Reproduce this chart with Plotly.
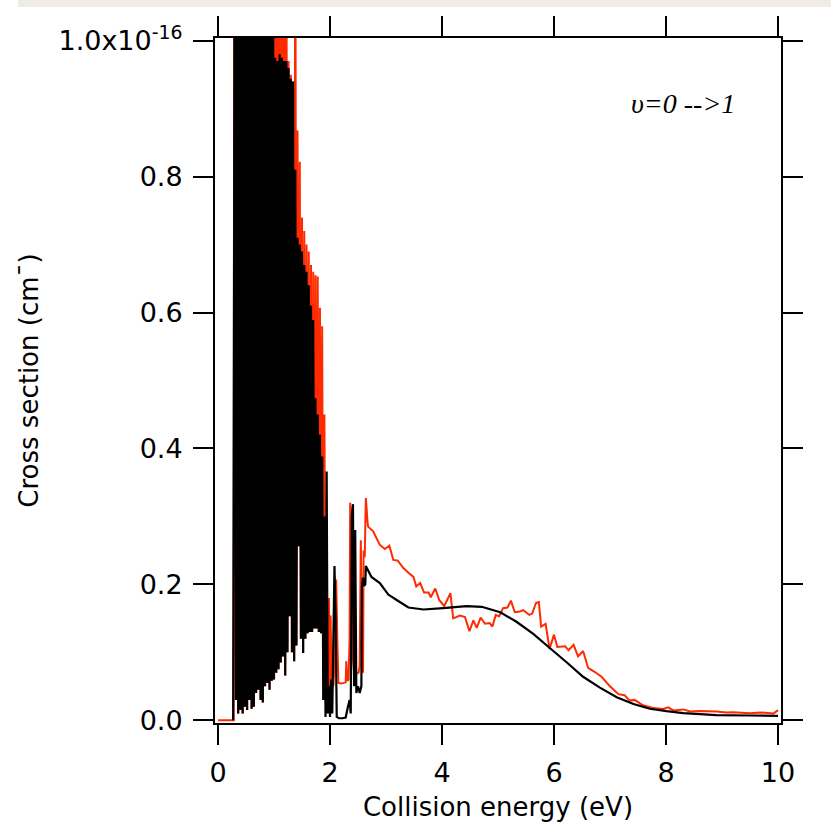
import plotly.graph_objects as go

# ---------------- data ----------------
# black curve
black_x = [0.27, 0.28,
           0.30, 0.32, 0.34, 0.36, 0.38, 0.40, 0.42, 0.44, 0.46, 0.48,
           0.50, 0.52, 0.54, 0.56, 0.58, 0.60, 0.62, 0.64, 0.66, 0.68,
           0.70, 0.72, 0.74, 0.76, 0.78, 0.80, 0.82, 0.84, 0.86, 0.88,
           0.90, 0.92, 0.94, 0.96, 0.98, 1.00, 1.02, 1.04, 1.06, 1.08,
           1.10, 1.12, 1.14, 1.16, 1.18, 1.20, 1.22, 1.24, 1.26, 1.28,
           1.30, 1.32, 1.34, 1.36, 1.38, 1.40, 1.42, 1.44, 1.46, 1.48,
           1.50, 1.52, 1.54, 1.56, 1.58, 1.60, 1.62, 1.64, 1.66, 1.68,
           1.70, 1.72, 1.74, 1.76, 1.78, 1.80, 1.82, 1.84, 1.86, 1.88,
           1.90, 1.92, 1.94, 1.96, 1.98, 2.00, 2.02, 2.04, 2.06, 2.08,
           2.10, 2.12, 2.16, 2.22, 2.28, 2.32, 2.35, 2.37, 2.39, 2.41,
           2.43, 2.45, 2.47, 2.50, 2.53, 2.56, 2.57, 2.59, 2.61, 2.63,
           2.64, 2.74, 2.89, 3.04, 3.19, 3.40, 3.67, 4.02, 4.44, 4.71,
           5.04, 5.33, 5.63, 5.93, 6.23, 6.52, 6.82, 7.12, 7.42, 7.71,
           8.01, 8.31, 8.90, 9.50, 10.0]
black_y = [0.0, 0.40,
           1.3, 0.03, 1.3, 0.01, 1.3, 0.015, 1.3, 0.01, 1.3, 0.02,
           1.3, 0.015, 1.3, 0.03, 1.3, 0.017, 1.3, 0.02, 1.3, 0.04,
           1.3, 0.045, 1.3, 0.03, 1.3, 0.026, 1.3, 0.05, 1.3, 0.055,
           1.3, 0.045, 1.3, 0.058, 1.3, 0.06, 0.975, 0.07, 0.97, 0.075,
           0.98, 0.085, 0.975, 0.094, 0.97, 0.066, 0.97, 0.10, 0.96, 0.153,
           0.944, 0.10, 0.94, 0.087, 0.81, 0.11, 0.71, 0.256, 0.70, 0.12,
           0.69, 0.099, 0.67, 0.12, 0.66, 0.128, 0.64, 0.13, 0.61, 0.13,
           0.589, 0.135, 0.474, 0.135, 0.45, 0.13, 0.42, 0.128, 0.388, 0.03,
           0.30, 0.005, 0.366, 0.01, 0.05, 0.005, 0.06, 0.01, 0.12, 0.227,
           0.15, 0.005, 0.003, 0.003, 0.004, 0.02, 0.03, 0.01, 0.30, 0.318,
           0.05, 0.28, 0.04, 0.05, 0.04, 0.05, 0.197, 0.21, 0.198, 0.20,
           0.227, 0.211, 0.202, 0.185, 0.177, 0.166, 0.163, 0.165, 0.168, 0.167,
           0.159, 0.145, 0.127, 0.106, 0.085, 0.064, 0.048, 0.034, 0.024, 0.017,
           0.0135, 0.0106, 0.0076, 0.007, 0.0066]

# red curve
red_x = [0.00, 0.28, 0.29,
         0.30, 0.32, 0.34, 0.36, 0.38, 0.40, 0.42, 0.44, 0.46, 0.48,
         0.50, 0.52, 0.54, 0.56, 0.58, 0.60, 0.62, 0.64, 0.66, 0.68,
         0.70, 0.72, 0.74, 0.76, 0.78, 0.80, 0.82, 0.84, 0.86, 0.88,
         0.90, 0.92, 0.94, 0.96, 0.98, 1.00, 1.02, 1.04, 1.06, 1.08,
         1.10, 1.12, 1.14, 1.16, 1.18, 1.20, 1.22, 1.24, 1.26, 1.28,
         1.30, 1.32, 1.34, 1.36, 1.38, 1.40, 1.42, 1.44, 1.46, 1.48,
         1.50, 1.52, 1.54, 1.56, 1.58, 1.60, 1.62, 1.64, 1.66, 1.68,
         1.70, 1.72, 1.74, 1.76, 1.78, 1.80, 1.82, 1.84, 1.86, 1.88,
         1.90, 1.92, 1.94, 1.96, 1.98, 2.00, 2.01, 2.03, 2.06, 2.09,
         2.11, 2.13, 2.15, 2.20, 2.25, 2.28, 2.29, 2.31, 2.33, 2.35,
         2.36, 2.38, 2.40, 2.44, 2.48, 2.51, 2.53, 2.55, 2.57, 2.59,
         2.60, 2.62, 2.64, 2.67, 2.68, 2.77, 2.89, 2.98, 3.06, 3.13,
         3.21, 3.31, 3.40, 3.49, 3.54, 3.61, 3.68, 3.76, 3.80, 3.88,
         3.95, 4.04, 4.15, 4.20, 4.32, 4.41, 4.49, 4.56, 4.62, 4.69,
         4.77, 4.85, 4.90, 4.96, 5.02, 5.09, 5.17, 5.23, 5.30, 5.39,
         5.45, 5.56, 5.61, 5.68, 5.73, 5.77, 5.85, 5.92, 6.00, 6.06,
         6.20, 6.26, 6.35, 6.43, 6.52, 6.61, 6.73, 6.85, 7.00, 7.15,
         7.26, 7.35, 7.44, 7.59, 7.77, 7.95, 8.04, 8.13, 8.31, 8.43,
         8.61, 8.90, 9.08, 9.20, 9.50, 9.68, 9.92, 10.0]
red_y = [0.0, 0.0, 1.3,
         1.3, 0.03, 1.3, 0.01, 1.3, 0.015, 1.3, 0.01, 1.3, 0.02,
         1.3, 0.015, 1.3, 0.03, 1.3, 0.017, 1.3, 0.02, 1.3, 0.04,
         1.3, 0.045, 1.3, 0.03, 1.3, 0.026, 1.3, 0.05, 1.3, 0.055,
         1.3, 0.045, 1.3, 0.058, 1.3, 0.06, 1.3, 0.07, 1.3, 0.075,
         1.3, 0.085, 1.3, 0.094, 1.3, 0.066, 1.3, 0.10, 0.97, 0.153,
         0.95, 0.10, 0.94, 0.087, 1.3, 0.11, 0.868, 0.256, 0.822, 0.12,
         0.74, 0.099, 0.72, 0.12, 0.70, 0.128, 0.69, 0.13, 0.67, 0.13,
         0.66, 0.135, 0.655, 0.135, 0.653, 0.13, 0.607, 0.128, 0.58, 0.03,
         0.45, 0.03, 0.15, 0.04, 0.18, 0.03, 0.154, 0.06, 0.05, 0.10,
         0.207, 0.12, 0.055, 0.054, 0.055, 0.056, 0.087, 0.058, 0.06, 0.12,
         0.32, 0.30, 0.10, 0.06, 0.07, 0.07, 0.08, 0.265, 0.10, 0.07,
         0.25, 0.24, 0.327, 0.292, 0.285, 0.278, 0.258, 0.252, 0.257, 0.236,
         0.235, 0.224, 0.217, 0.211, 0.197, 0.202, 0.188, 0.188, 0.181, 0.194,
         0.177, 0.168, 0.187, 0.150, 0.154, 0.152, 0.131, 0.147, 0.136, 0.151,
         0.142, 0.143, 0.138, 0.155, 0.153, 0.165, 0.166, 0.176, 0.159, 0.160,
         0.162, 0.155, 0.157, 0.173, 0.174, 0.138, 0.142, 0.105, 0.126, 0.108,
         0.109, 0.103, 0.111, 0.094, 0.102, 0.077, 0.071, 0.064, 0.050, 0.0385,
         0.037, 0.029, 0.030, 0.022, 0.018, 0.0165, 0.019, 0.0145, 0.016, 0.013,
         0.0135, 0.013, 0.0115, 0.012, 0.0105, 0.0115, 0.010, 0.015]

x_ticks = [0, 2, 4, 6, 8, 10]
x_tick_labels = ["0", "2", "4", "6", "8", "10"]
y_ticks = [0.0, 0.2, 0.4, 0.6, 0.8, 1.0]
y_tick_labels = ["0.0", "0.2", "0.4", "0.6", "0.8", "1.0x10<sup>-16</sup>"]

# ---------------- figure ----------------
W, H = 831, 829
ML, MR, MT, MB = 215, 50, 38, 106
PW, PH = W - ML - MR, H - MT - MB

fig = go.Figure()
fig.add_trace(go.Scatter(x=red_x, y=red_y, mode="lines",
                         line=dict(color="#ff2a00", width=2, simplify=False),
                         showlegend=False))
fig.add_trace(go.Scatter(x=black_x, y=black_y, mode="lines",
                         line=dict(color="black", width=2.2, simplify=False),
                         showlegend=False))

axis_common = dict(showgrid=False, zeroline=False, showline=True, linecolor="black",
                   linewidth=2, ticks="outside", ticklen=20, tickwidth=2,
                   tickcolor="black", mirror="allticks",
                   tickfont=dict(family="DejaVu Sans", size=27, color="black"))

fig.update_layout(
    width=W, height=H,
    margin=dict(l=ML, r=MR, t=MT, b=MB),
    paper_bgcolor="white", plot_bgcolor="white",
    font=dict(family="DejaVu Sans", color="black"),
    xaxis=dict(range=[-0.054, 10.054], tickvals=x_ticks, ticktext=x_tick_labels,
               ticklabelstandoff=5,
               title=dict(text="Collision energy (eV)", standoff=10,
                          font=dict(family="DejaVu Sans", size=26, color="black")),
               **axis_common),
    yaxis=dict(range=[-0.004, 1.004], tickvals=y_ticks, ticktext=y_tick_labels,
               ticklabelstandoff=5,
               title=dict(text="Cross section (cm¯)", standoff=12,
                          font=dict(family="DejaVu Sans", size=26, color="black")),
               **axis_common),
    annotations=[dict(x=8.3, y=0.908, xref="x", yref="y", showarrow=False,
                      text="<i>υ=0 --&gt;1</i>",
                      font=dict(family="Liberation Serif", size=28, color="black"))],
    shapes=[dict(type="rect", xref="paper", yref="paper",
                 x0=(18 - ML) / PW, x1=(W - ML) / PW,
                 y0=(H - MB - 7) / PH, y1=(H - MB) / PH + 0.01,
                 fillcolor="#efece7", line=dict(width=0), layer="below")],
)

fig.write_html("out.html")
